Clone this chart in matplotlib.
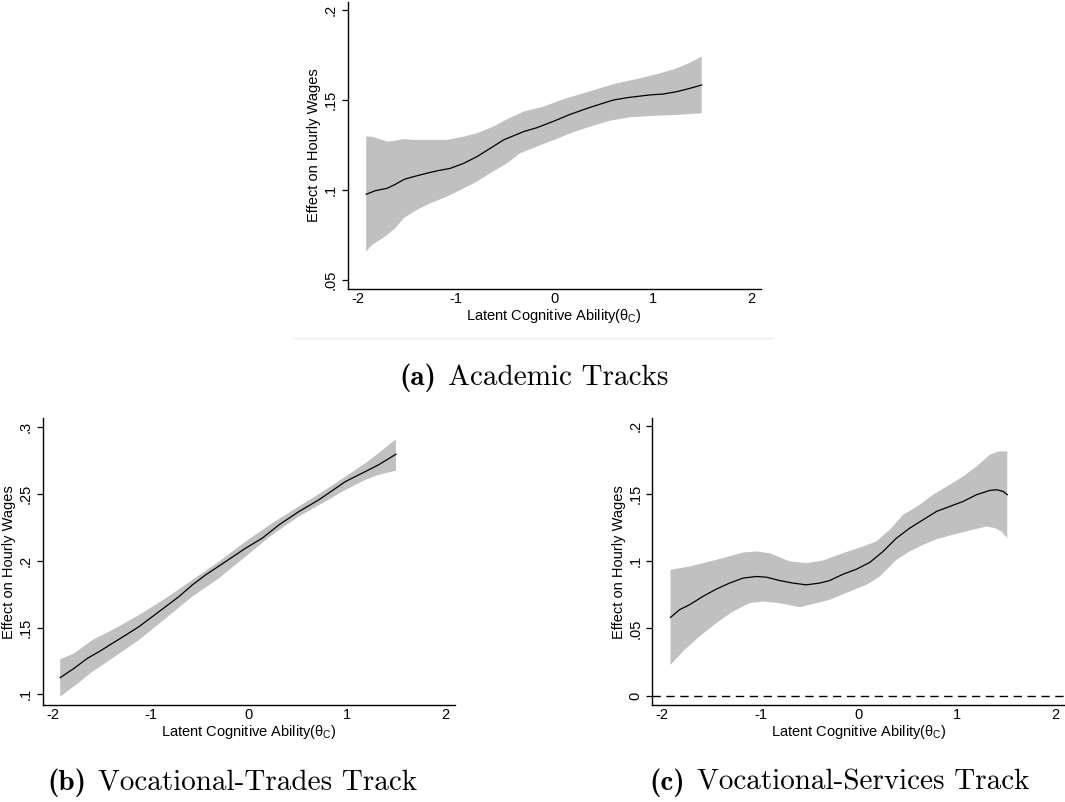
import matplotlib

matplotlib.use('Agg')
import matplotlib.pyplot as plt
from matplotlib.lines import Line2D

plt.rcParams['font.family'] = ['Liberation Sans', 'DejaVu Sans']

# (a) academic tracks
acad_x = [-1.912, -1.82, -1.70, -1.617, -1.525, -1.43, -1.295, -1.193, -1.058, -0.92, -0.786,
          -0.651, -0.515, -0.312, -0.176, 0.0, 0.163, 0.366, 0.603, 0.773, 0.976, 1.11, 1.247,
          1.383, 1.5]
acad_est = [0.0976, 0.0996, 0.1009, 0.1031, 0.1059, 0.1074, 0.1093, 0.1106, 0.112, 0.1148, 0.1185,
            0.1231, 0.1278, 0.1324, 0.1346, 0.1383, 0.142, 0.1459, 0.15, 0.1515, 0.1528, 0.1533,
            0.1546, 0.1565, 0.1583]
acad_hi_x = [-1.912, -1.854, -1.70, -1.634, -1.525, -1.43, -1.295, -1.09, -0.92, -0.786, -0.617,
             -0.48, -0.312, -0.108, 0.095, 0.332, 0.637, 0.875, 1.078, 1.247, 1.383, 1.5]
acad_hi = [0.1296, 0.1296, 0.1269, 0.1272, 0.1283, 0.1278, 0.1278, 0.1278, 0.1296, 0.1315, 0.1352,
           0.1393, 0.1435, 0.1463, 0.1504, 0.1543, 0.1593, 0.162, 0.1648, 0.1676, 0.1707, 0.1741]
acad_lo_x = [-1.912, -1.854, -1.72, -1.617, -1.532, -1.397, -1.26, -1.09, -0.92, -0.786, -0.651,
             -0.48, -0.346, -0.176, 0.0, 0.163, 0.366, 0.569, 0.773, 0.976, 1.247, 1.5]
acad_lo = [0.0657, 0.0694, 0.0741, 0.0787, 0.0843, 0.0889, 0.0926, 0.0963, 0.1009, 0.1046, 0.1093,
           0.1148, 0.1204, 0.1241, 0.1278, 0.1315, 0.1352, 0.1385, 0.1404, 0.1411, 0.1417, 0.1426]

# (b) vocational-trades
trades_x = [-1.922, -1.78, -1.644, -1.525, -1.39, -1.254, -1.119, -0.983, -0.847, -0.712, -0.576,
            -0.441, -0.237, -0.034, 0.136, 0.305, 0.508, 0.712, 0.983, 1.186, 1.32, 1.498]
trades_est = [0.1125, 0.1195, 0.127, 0.132, 0.1382, 0.1444, 0.1507, 0.1582, 0.1657, 0.1732, 0.1819,
              0.1894, 0.1994, 0.2094, 0.2169, 0.2268, 0.2368, 0.2456, 0.2593, 0.2668, 0.2718, 0.2798]
trades_hi_x = [-1.922, -1.78, -1.593, -1.39, -1.119, -0.847, -0.576, -0.305, -0.034, 0.237, 0.508,
               0.78, 0.983, 1.186, 1.32, 1.498]
trades_hi = [0.1262, 0.1307, 0.1407, 0.1482, 0.1594, 0.1719, 0.1856, 0.1994, 0.2144, 0.2281, 0.2406,
             0.2531, 0.263, 0.273, 0.2805, 0.291]
trades_lo_x = [-1.922, -1.763, -1.593, -1.39, -1.119, -0.847, -0.576, -0.305, -0.034, 0.237, 0.508,
               0.78, 0.983, 1.186, 1.32, 1.498]
trades_lo = [0.0983, 0.107, 0.117, 0.127, 0.1407, 0.1569, 0.1732, 0.1869, 0.2031, 0.2194, 0.2331,
             0.2444, 0.2531, 0.2606, 0.2643, 0.2675]

# (c) vocational-services
serv_x = [-1.915, -1.824, -1.722, -1.586, -1.45, -1.315, -1.179, -1.043, -0.941, -0.806, -0.67,
          -0.534, -0.399, -0.297, -0.161, -0.025, 0.11, 0.246, 0.382, 0.517, 0.653, 0.789, 0.924,
          1.06, 1.196, 1.332, 1.4, 1.467, 1.508]
serv_est = [0.0582, 0.0639, 0.0676, 0.0738, 0.0792, 0.0837, 0.0874, 0.0886, 0.0881, 0.0856, 0.0837,
            0.0824, 0.0837, 0.0856, 0.0903, 0.094, 0.099, 0.1072, 0.1171, 0.1245, 0.1307, 0.1369,
            0.1406, 0.1443, 0.1493, 0.1525, 0.153, 0.1517, 0.1493]
serv_hi_x = [-1.915, -1.722, -1.382, -1.179, -1.043, -0.907, -0.704, -0.534, -0.365, -0.161, 0.042,
             0.178, 0.314, 0.45, 0.619, 0.755, 0.924, 1.06, 1.196, 1.332, 1.416, 1.508]
serv_hi = [0.0936, 0.096, 0.1022, 0.1064, 0.1072, 0.1059, 0.0998, 0.0985, 0.1005, 0.1059, 0.1109,
           0.1146, 0.1233, 0.1344, 0.1418, 0.1493, 0.1567, 0.1629, 0.1703, 0.179, 0.1814, 0.1814]
serv_lo_x = [-1.915, -1.79, -1.62, -1.45, -1.28, -1.111, -0.975, -0.806, -0.602, -0.432, -0.297,
             -0.093, 0.076, 0.212, 0.382, 0.517, 0.653, 0.789, 0.958, 1.128, 1.298, 1.383, 1.45,
             1.508]
serv_lo = [0.023, 0.0329, 0.0441, 0.054, 0.0626, 0.0688, 0.07, 0.0688, 0.0658, 0.0688, 0.0713,
           0.0775, 0.0824, 0.0886, 0.101, 0.1072, 0.1121, 0.1163, 0.1196, 0.1228, 0.1257, 0.1245,
           0.122, 0.1171]

x_ticks = [-2, -1, 0, 1, 2]
acad_yticks = [0.05, 0.1, 0.15, 0.2]
acad_ylabels = ['.05', '.1', '.15', '.2']
trades_yticks = [0.1, 0.15, 0.2, 0.25, 0.3]
trades_ylabels = ['.1', '.15', '.2', '.25', '.3']
serv_yticks = [0, 0.05, 0.1, 0.15, 0.2]
serv_ylabels = ['0', '.05', '.1', '.15', '.2']

BAND = '#c0c0c0'
W, H = 1065, 802


def px_box(left, right, bottom, top):
    return [left / W, 1 - bottom / H, (right - left) / W, (bottom - top) / H]


def draw_panel(ax, x, est, hx, hi, lx, lo, yticks, ylabels, ylim):
    ax.fill(list(hx) + list(lx[::-1]), list(hi) + list(lo[::-1]),
            color=BAND, lw=0, zorder=1)
    ax.plot(x, est, color='black', lw=0.9, zorder=3)
    ax.set_xlim(-2.1, 2.1)
    ax.set_ylim(*ylim)
    ax.set_xticks(x_ticks)
    ax.set_xticklabels([str(t) for t in x_ticks])
    ax.set_yticks(yticks)
    ax.set_yticklabels(ylabels, rotation=90, va='center')
    for s in ['top', 'right']:
        ax.spines[s].set_visible(False)
    for s in ['left', 'bottom']:
        ax.spines[s].set_linewidth(1.0)
    ax.tick_params(axis='x', length=0, pad=2, labelsize=10.5)
    ax.tick_params(axis='y', length=4, width=0.9, pad=3, labelsize=10.5)
    ax.set_xlabel(r'Latent Cognitive Ability($\mathregular{\theta_C}$)', fontsize=10.5, labelpad=1)
    ax.set_ylabel('Effect on Hourly Wages', fontsize=10.5, labelpad=2)
    ax.patch.set_alpha(0)


fig = plt.figure(figsize=(10.65, 8.02), dpi=100)

ax_a = fig.add_axes(px_box(347.7, 760.7, 289, 2))
draw_panel(ax_a, acad_x, acad_est, acad_hi_x, acad_hi, acad_lo_x, acad_lo,
           acad_yticks, acad_ylabels, (0.045, 0.2044))

ax_b = fig.add_axes(px_box(42.7, 455, 705.3, 418.3))
draw_panel(ax_b, trades_x, trades_est, trades_hi_x, trades_hi, trades_lo_x, trades_lo,
           trades_yticks, trades_ylabels, (0.0918, 0.3067))

ax_c = fig.add_axes(px_box(652.3, 1065.5, 705.3, 418.3))
draw_panel(ax_c, serv_x, serv_est, serv_hi_x, serv_hi, serv_lo_x, serv_lo,
           serv_yticks, serv_ylabels, (-0.007, 0.206))
ax_c.axhline(0, color='black', lw=1.0, ls=(0, (6, 4)), zorder=2)

# faint rule under the top graph
fig.add_artist(Line2D([293 / W, 773 / W], [1 - 338 / H, 1 - 338 / H],
                      color='#eeeeee', lw=1.0))

# sub-captions: bold letter, then roman title
captions = [('(a)', 'Academic Tracks', 399, 385),
            ('(b)', 'Vocational-Trades Track', 47, 790),
            ('(c)', 'Vocational-Services Track', 649, 790)]
for tag, title, x0, y0 in captions:
    t = fig.text(x0 / W, 1 - y0 / H, tag, family='cmb10', fontsize=21,
                 va='baseline', ha='left')
    fig.canvas.draw()
    bb = t.get_window_extent()
    fig.text((bb.x1 + 12) / W, 1 - y0 / H, title, family='cmr10', fontsize=21,
             va='baseline', ha='left')

fig.savefig('out.png', dpi=100)
